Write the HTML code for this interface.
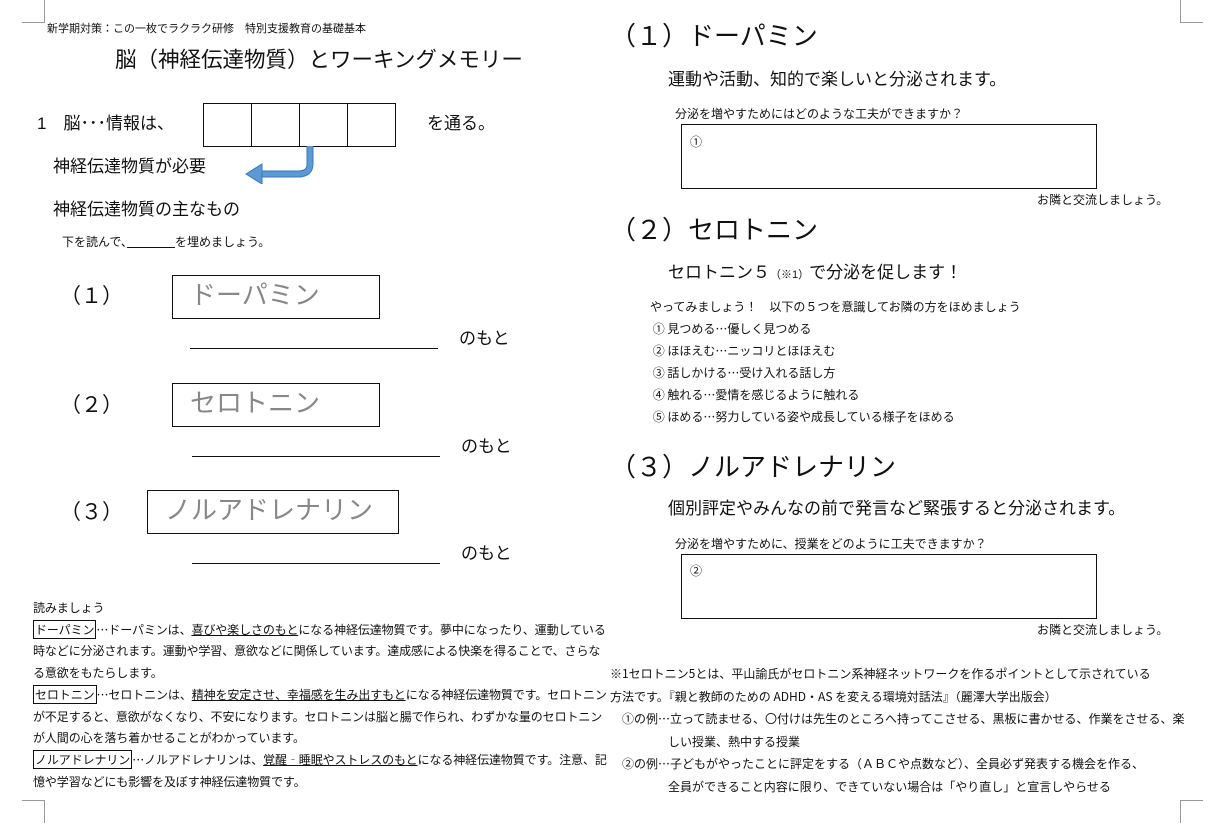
<!DOCTYPE html>
<html><head><meta charset="utf-8"><style>
body{margin:0;width:1219px;height:833px;background:#fff;position:relative;overflow:hidden;font-family:"Liberation Sans","Noto Sans CJK JP",sans-serif;color:#111}
.a{position:absolute;white-space:nowrap;line-height:1.2}
.s{font-size:12px}
.m{font-size:17px}
.h{font-size:26px}
.bx{position:absolute;border:1.5px solid #111}
.ln{position:absolute;height:0;border-top:1.5px solid #111}
.g{color:#888;font-size:26px}
.k{border:1px solid #111;padding:0 1px}
.u{text-decoration:underline}
.p{position:absolute;font-size:12px;line-height:21.7px;white-space:nowrap;font-family:"Noto Sans CJK JP","Liberation Sans",sans-serif}
.p div{height:22.5px}
.c{position:absolute;border-color:#999;border-style:solid;width:22px;height:22px}
</style></head><body>
<div class="c" style="left:22px;top:0;border-width:0 1px 1px 0"></div>
<div class="c" style="left:1180px;top:0;border-width:0 0 1px 1px"></div>
<div class="c" style="left:22px;top:800px;border-width:1px 1px 0 0"></div>
<div class="c" style="left:1180px;top:800px;border-width:1px 0 0 1px"></div>

<div class="a" style="left:47px;top:23px;font-size:11px">新学期対策：この一枚でラクラク研修　特別支援教育の基礎基本</div>
<div class="a" style="left:115px;top:48px;font-size:21.5px">脳（神経伝達物質）とワーキングメモリー</div>
<div class="a m" style="left:37px;top:114px">1　脳･･･情報は、</div>
<div class="bx" style="left:203px;top:103px;width:191px;height:42px"></div>
<div style="position:absolute;left:251px;top:103px;width:0;height:43px;border-left:1.5px solid #111"></div>
<div style="position:absolute;left:299px;top:103px;width:0;height:43px;border-left:1.5px solid #111"></div>
<div style="position:absolute;left:347px;top:103px;width:0;height:43px;border-left:1.5px solid #111"></div>
<div class="a m" style="left:427px;top:114px">を通る。</div>
<svg style="position:absolute;left:240px;top:144px" width="85" height="40"><path d="M70 2 V20 Q70 30 58 30 H20" fill="none" stroke="#3f77b6" stroke-width="7"/><path d="M70 2 V20 Q70 30 58 30 H20" fill="none" stroke="#5b9bd5" stroke-width="5"/><polygon points="6,30 22,20 22,40" fill="#5b9bd5" stroke="#3f77b6"/></svg>
<div class="a m" style="left:53px;top:157px">神経伝達物質が必要</div>
<div class="a m" style="left:53px;top:200px">神経伝達物質の主なもの</div>
<div class="a s" style="left:62px;top:235px">下を読んで、<span style="text-decoration:underline">　　　　</span>を埋めましょう。</div>

<div class="a" style="left:60px;top:284px;font-size:21px">（１）</div>
<div class="bx" style="left:172px;top:275px;width:206px;height:42px"></div>
<div class="a g" style="left:190px;top:280px">ドーパミン</div>
<div class="ln" style="left:190px;top:348px;width:248px"></div>
<div class="a m" style="left:459px;top:329px">のもと</div>

<div class="a" style="left:60px;top:393px;font-size:21px">（２）</div>
<div class="bx" style="left:172px;top:383px;width:206px;height:42px"></div>
<div class="a g" style="left:190px;top:388px">セロトニン</div>
<div class="ln" style="left:192px;top:456px;width:248px"></div>
<div class="a m" style="left:461px;top:437px">のもと</div>

<div class="a" style="left:60px;top:500px;font-size:21px">（３）</div>
<div class="bx" style="left:147px;top:490px;width:250px;height:42px"></div>
<div class="a g" style="left:165px;top:495px">ノルアドレナリン</div>
<div class="ln" style="left:192px;top:563px;width:248px"></div>
<div class="a m" style="left:461px;top:544px">のもと</div>

<div class="p" style="left:33px;top:597px;letter-spacing:-0.1px">読みましょう<br>
<span class="k">ドーパミン</span>…ドーパミンは、<span class="u">喜びや楽しさのもと</span>になる神経伝達物質です。夢中になったり、運動している<br>
時などに分泌されます。運動や学習、意欲などに関係しています。達成感による快楽を得ることで、さらな<br>
る意欲をもたらします。<br>
<span class="k">セロトニン</span>…セロトニンは、<span class="u">精神を安定させ、幸福感を生み出すもと</span>になる神経伝達物質です。セロトニン<br>
が不足すると、意欲がなくなり、不安になります。セロトニンは脳と腸で作られ、わずかな量のセロトニン<br>
が人間の心を落ち着かせることがわかっています。<br>
<span class="k">ノルアドレナリン</span>…ノルアドレナリンは、<span class="u">覚醒‐睡眠やストレスのもと</span>になる神経伝達物質です。注意、記<br>
憶や学習などにも影響を及ぼす神経伝達物質です。</div>

<div class="a h" style="left:610px;top:21px">（１）ドーパミン</div>
<div class="a m" style="left:668px;top:70px">運動や活動、知的で楽しいと分泌されます。</div>
<div class="a s" style="left:675px;top:107px">分泌を増やすためにはどのような工夫ができますか？</div>
<div class="bx" style="left:681px;top:124px;width:414px;height:63px"></div>
<div class="a s" style="left:690px;top:135px">①</div>
<div class="a s" style="left:1037px;top:193px">お隣と交流しましょう。</div>

<div class="a h" style="left:610px;top:215px">（２）セロトニン</div>
<div class="a m" style="left:668px;top:263px">セロトニン５<span style="font-size:11px">（※1）</span>で分泌を促します！</div>
<div class="p" style="left:650px;top:296px;line-height:22px">やってみましょう！　以下の５つを意識してお隣の方をほめましょう<br>
&nbsp;①&nbsp;見つめる…優しく見つめる<br>
&nbsp;②&nbsp;ほほえむ…ニッコリとほほえむ<br>
&nbsp;③&nbsp;話しかける…受け入れる話し方<br>
&nbsp;④&nbsp;触れる…愛情を感じるように触れる<br>
&nbsp;⑤&nbsp;ほめる…努力している姿や成長している様子をほめる</div>

<div class="a h" style="left:610px;top:452px">（３）ノルアドレナリン</div>
<div class="a m" style="left:668px;top:499px">個別評定やみんなの前で発言など緊張すると分泌されます。</div>
<div class="a s" style="left:675px;top:537px">分泌を増やすために、授業をどのように工夫できますか？</div>
<div class="bx" style="left:681px;top:554px;width:414px;height:63px"></div>
<div class="a s" style="left:690px;top:564px">②</div>
<div class="a s" style="left:1037px;top:623px">お隣と交流しましょう。</div>

<div class="p" style="left:610px;top:663px;line-height:22.5px">
<div>※1セロトニン5とは、平山諭氏がセロトニン系神経ネットワークを作るポイントとして示されている</div>
<div>方法です。『親と教師のための ADHD・AS を変える環境対話法』（麗澤大学出版会）</div>
<div style="padding-left:12px">①の例…立って読ませる、〇付けは先生のところへ持ってこさせる、黒板に書かせる、作業をさせる、楽</div>
<div style="padding-left:58px">しい授業、熱中する授業</div>
<div style="padding-left:12px">②の例…子どもがやったことに評定をする（ＡＢＣや点数など）、全員必ず発表する機会を作る、</div>
<div style="padding-left:58px">全員ができること内容に限り、できていない場合は「やり直し」と宣言しやらせる</div>
</div>
</body></html>
